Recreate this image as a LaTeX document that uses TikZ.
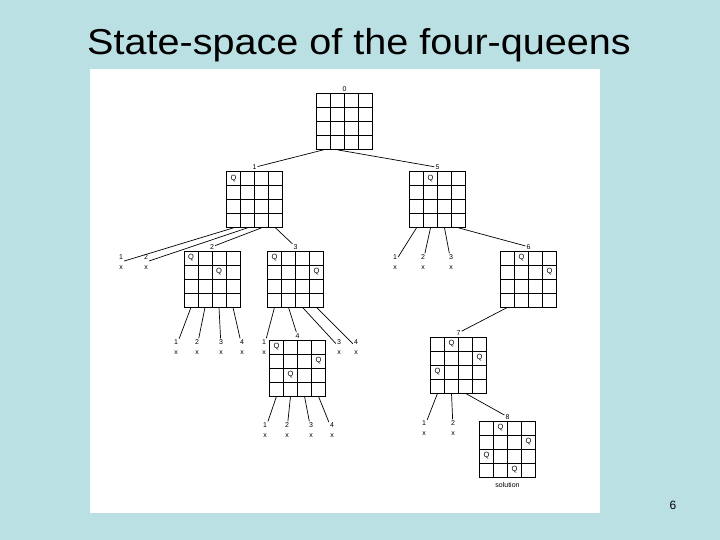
\documentclass[tikz,border=0pt]{standalone}
\usepackage{fontspec}
\setmainfont{Liberation Sans}
\usetikzlibrary{matrix,positioning}
\definecolor{slidebg}{RGB}{187,224,228}

\begin{document}
\begin{tikzpicture}[x=1pt,y=-1pt,
  board/.style={matrix of nodes, nodes in empty cells, inner sep=0pt,
    column sep=-0.7pt, row sep=-0.7pt,
    nodes={draw, line width=0.7pt, minimum size=14pt, inner sep=0pt,
      anchor=center, font=\fontsize{7.5}{7.5}\selectfont}},
  num/.style={font=\fontsize{7}{7}\selectfont, inner sep=1pt},
  leaf/.style={align=center, font=\fontsize{7}{10}\selectfont, inner sep=1pt},
  link/.style={line width=0.7pt}]
 % slide
 \fill[slidebg] (0,0) rectangle (720,540);
 \fill[white] (90,69) rectangle (600,513);
 \node[anchor=base] (title) at (359,55) {\fontsize{36}{40}\selectfont\scalebox{1.1}[1]{State-space of the four-queens}};
 \node[anchor=base] (page) at (673,509) {\fontsize{12}{14}\selectfont 6};

 % boards
 \matrix (b0) [board] at (344.5,121.5) { & & & \\ & & & \\ & & & \\ & & & \\ };
 \matrix (b1) [board] at (254.5,199.5) { Q & & & \\ & & & \\ & & & \\ & & & \\ };
 \matrix (b5) [board] at (437.5,199.5) { & Q & & \\ & & & \\ & & & \\ & & & \\ };
 \matrix (b2) [board] at (212,279) { Q & & & \\ & & Q & \\ & & & \\ & & & \\ };
 \matrix (b3) [board] at (295.5,279) { Q & & & \\ & & & Q \\ & & & \\ & & & \\ };
 \matrix (b6) [board] at (528.5,279) { & Q & & \\ & & & Q \\ & & & \\ & & & \\ };
 \matrix (b4) [board] at (297.5,368) { Q & & & \\ & & & Q \\ & Q & & \\ & & & \\ };
 \matrix (b7) [board] at (458.5,365) { & Q & & \\ & & & Q \\ Q & & & \\ & & & \\ };
 \matrix (b8) [board] at (507.5,449) { & Q & & \\ & & & Q \\ Q & & & \\ & & Q & \\ };

 % state numbers
 \foreach \s in {0,...,8}
  \node[num, above=0pt of b\s] (n\s) {\s};
 \node[num, below=4pt of b8] (sol) {solution};

 % dead ends
 \node[leaf] (xa1) at (121,262) {1\\x};
 \node[leaf] (xa2) at (146,262) {2\\x};
 \foreach \k/\x in {1/395,2/423,3/451}
  \node[leaf] (xb\k) at (\x,262) {\k\\x};
 \foreach \k/\x in {1/176,2/197,3/221,4/242}
  \node[leaf] (xc\k) at (\x,347) {\k\\x};
 \foreach \k/\x in {1/264,3/339,4/356}
  \node[leaf] (xd\k) at (\x,347) {\k\\x};
 \foreach \k/\x in {1/265,2/287,3/311,4/332}
  \node[leaf] (xe\k) at (\x,430) {\k\\x};
 \foreach \k/\x in {1/424,2/453}
  \node[leaf] (xf\k) at (\x,428) {\k\\x};

 \path[link]
  (b0-4-1.south) edge (n1)
  (b0-4-2.south) edge (n5)
  (b1-4-1.south) edge (xa1)
  (b1-4-2.south) edge (xa2)
  (b1-4-3.south) edge (n2)
  (b1-4-4.south) edge (n3)
  (b5-4-1.south) edge (xb1)
  (b5-4-2.south) edge (xb2)
  (b5-4-3.south) edge (xb3)
  (b5-4-4.south) edge (n6)
  (b2-4-1.south) edge (xc1)
  (b2-4-2.south) edge (xc2)
  (b2-4-3.south) edge (xc3)
  (b2-4-4.south) edge (xc4)
  (b3-4-1.south) edge (xd1)
  (b3-4-2.south) edge (n4)
  (b3-4-3.south) edge (xd3)
  (b3-4-4.south) edge (xd4)
  (b4-4-1.south) edge (xe1)
  (b4-4-2.south) edge (xe2)
  (b4-4-3.south) edge (xe3)
  (b4-4-4.south) edge (xe4)
  (b6-4-1.south) edge (n7)
  (b7-4-1.south) edge (xf1)
  (b7-4-2.south) edge (xf2)
  (b7-4-3.south) edge (n8);
\end{tikzpicture}
\end{document}
